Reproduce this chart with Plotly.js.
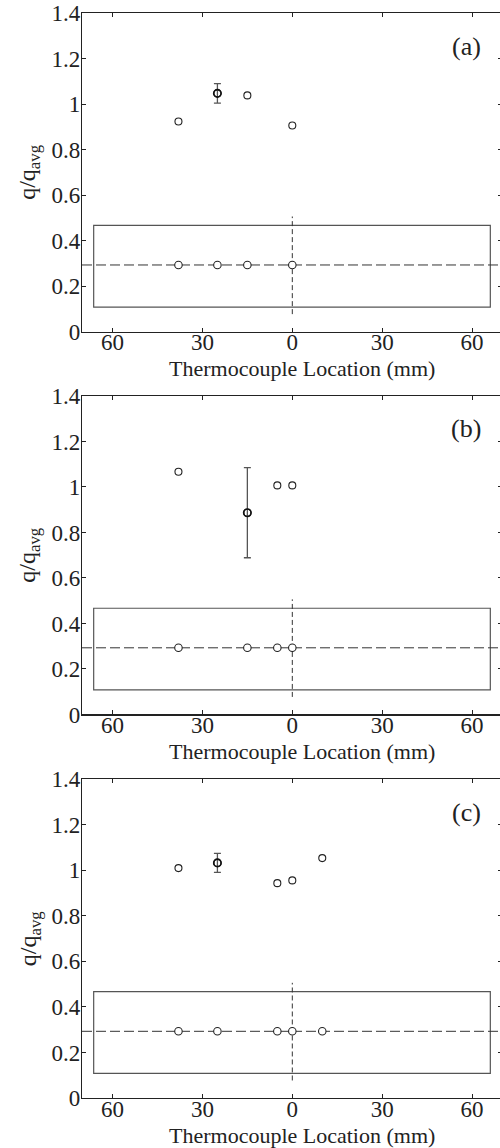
<!DOCTYPE html>
<html>
<head>
<meta charset="utf-8">
<script src="https://cdn.plot.ly/plotly-3.0.1.min.js"></script>
<style>
html,body{margin:0;padding:0;overflow:hidden;background:#fff;}
#chart{width:504px;height:1148px;}
</style>
</head>
<body>
<div id="chart"></div>
<script>
// ---- data ----
const xTickVals = [-60, -30, 0, 30, 60];
const xTickText = ['60', '30', '0', '30', '60'];
const yTickVals = [0, 0.2, 0.4, 0.6, 0.8, 1, 1.2, 1.4];
const yTickText = ['0', '0.2', '0.4', '0.6', '0.8', '1', '1.2', '1.4'];
const panelLabels = ['(a)', '(b)', '(c)'];

const posA = [-38, -25, -15, 0];
const qA   = [0.923, 1.047, 1.038, 0.906];
const errA = [0, 0.043, 0, 0];

const posB = [-38, -15, -5, 0];
const qB   = [1.067, 0.887, 1.007, 1.007];
const errB = [0, 0.198, 0, 0];

const posC = [-38, -25, -5, 0, 10];
const qC   = [1.010, 1.033, 0.944, 0.956, 1.054];
const errC = [0, 0.042, 0, 0, 0];

// inset schematic (plate outline, centrelines, thermocouple row)
const insetRow = 0.293;
const plateX = [-66.3, 66.1];
const plateY = [0.108, 0.467];
const centreY = [0.077, 0.506];

// ---- build ----
const FONT = "'Liberation Serif', 'Times New Roman', Times, serif";
const FS = 23;
const panels = [
  {pos: posA, q: qA, err: errA, dom: [0.7063, 1.0]},
  {pos: posB, q: qB, err: errB, dom: [0.3535, 0.647]},
  {pos: posC, q: qC, err: errC, dom: [0.0, 0.2937]}
];

const traces = [];
const shapes = [];
const annotations = [];
const layout = {
  width: 504, height: 1148,
  margin: {l: 82, r: 2, t: 13, b: 50},
  paper_bgcolor: '#fff', plot_bgcolor: '#fff',
  showlegend: false,
  font: {family: FONT, size: FS, color: '#222'}
};

panels.forEach((p, i) => {
  const n = i === 0 ? '' : String(i + 1);
  const xa = 'x' + n, ya = 'y' + n;
  // inset thermocouple positions
  traces.push({
    x: p.pos, y: p.pos.map(() => insetRow), xaxis: xa, yaxis: ya,
    type: 'scatter', mode: 'markers', hoverinfo: 'skip',
    marker: {symbol: 'circle', size: 7.5, color: '#fff', line: {color: '#222', width: 1.1}}
  });
  // measured values
  traces.push({
    x: p.pos, y: p.q, xaxis: xa, yaxis: ya,
    type: 'scatter', mode: 'markers',
    marker: {symbol: 'circle-open', size: 7, color: '#222', line: {width: 1.1}}
  });
  // points with error bars
  const idx = p.err.map((e, k) => e > 0 ? k : -1).filter(k => k >= 0);
  traces.push({
    x: idx.map(k => p.pos[k]), y: idx.map(k => p.q[k]), xaxis: xa, yaxis: ya,
    type: 'scatter', mode: 'markers',
    marker: {symbol: 'circle-open', size: 7.5, color: '#111', line: {width: 1.6}},
    error_y: {type: 'data', array: idx.map(k => p.err[k]), visible: true,
              color: '#555', thickness: 1.3, width: 3.5}
  });

  layout['xaxis' + n] = {
    domain: [0, 1], anchor: ya, range: [-70.2, 70],
    tickmode: 'array', tickvals: xTickVals, ticktext: xTickText,
    ticks: 'inside', ticklen: 4, tickwidth: 1, tickcolor: '#222',
    showline: true, linecolor: '#222', linewidth: 1.2, mirror: 'ticks',
    showgrid: false, zeroline: false, ticklabelstandoff: -10,
    tickfont: {family: FONT, size: FS, color: '#222'}
  };
  layout['yaxis' + n] = {
    domain: p.dom, anchor: xa, range: [0, 1.4],
    tickmode: 'array', tickvals: yTickVals, ticktext: yTickText,
    ticks: 'inside', ticklen: 4, tickwidth: 1, tickcolor: '#222',
    showline: true, linecolor: '#222', linewidth: 1.2, mirror: 'ticks',
    showgrid: false, zeroline: false, ticklabelstandoff: -4,
    tickfont: {family: FONT, size: FS, color: '#222'}
  };

  // inset shapes
  shapes.push({type: 'rect', xref: xa, yref: ya, x0: plateX[0], x1: plateX[1], y0: plateY[0], y1: plateY[1],
               line: {color: '#555', width: 1.2}, layer: 'below'});
  shapes.push({type: 'line', xref: xa, yref: ya, x0: -70.2, x1: 70, y0: insetRow, y1: insetRow,
               line: {color: '#333', width: 1, dash: '10px,4px'}, layer: 'below'});
  shapes.push({type: 'line', xref: xa, yref: ya, x0: 0, x1: 0, y0: centreY[0], y1: centreY[1],
               line: {color: '#333', width: 1, dash: '5px,3px'}, layer: 'below'});

  // panel label
  annotations.push({xref: xa, yref: ya, x: 58, y: 1.255, text: panelLabels[i], showarrow: false,
                    xanchor: 'center', yanchor: 'middle', font: {family: FONT, size: 26, color: '#222'}});
  // x title
  annotations.push({xref: 'paper', yref: 'paper', x: 0.524, y: p.dom[0], yshift: -37,
                    text: 'Thermocouple Location (mm)', showarrow: false,
                    xanchor: 'center', yanchor: 'middle', font: {family: FONT, size: 22, color: '#222'}});
  // y title
  annotations.push({xref: 'paper', yref: 'paper', x: -0.125, y: (p.dom[0] + p.dom[1]) / 2,
                    text: 'q/q<sub>avg</sub>', showarrow: false, textangle: -90,
                    xanchor: 'center', yanchor: 'middle', font: {family: FONT, size: 24, color: '#222'}});
});

layout.shapes = shapes;
layout.annotations = annotations;

Plotly.newPlot('chart', traces, layout, {staticPlot: true, displayModeBar: false});
</script>
</body>
</html>
